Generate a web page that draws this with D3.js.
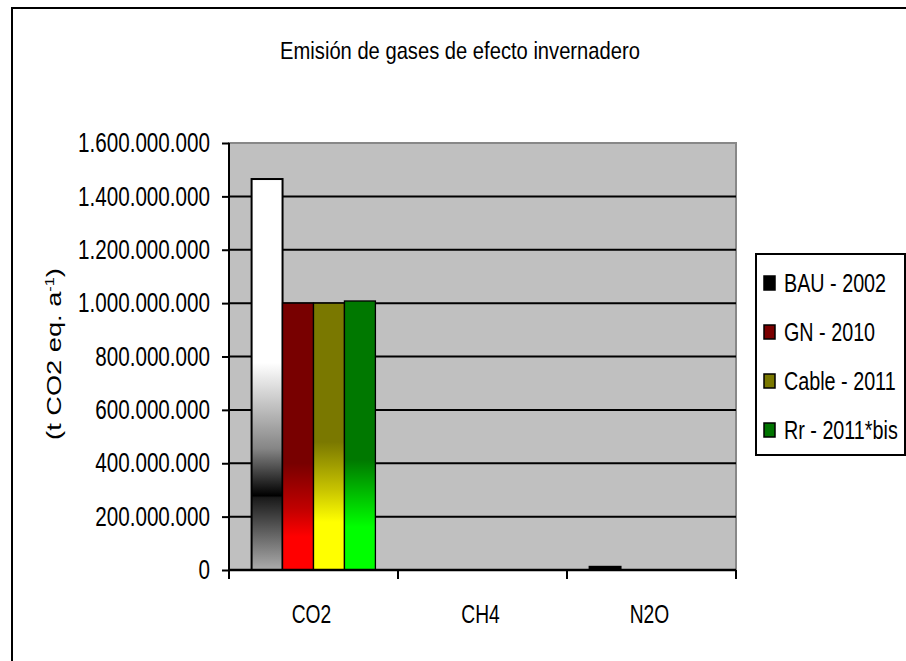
<!DOCTYPE html>
<html>
<head>
<meta charset="utf-8">
<script src="https://cdn.jsdelivr.net/npm/d3@7"></script>
<style>
  body { margin: 0; background: #fff; }
  text { font-family: "Liberation Sans", Arial, sans-serif; fill: #000; }
</style>
</head>
<body>
<div id="chart"></div>
<script>
// datos del gráfico
const gases = ["CO2", "CH4", "N2O"];
const escenarios = ["BAU - 2002", "GN - 2010", "Cable - 2011", "Rr - 2011*bis"];
const bau = [1465000000, 300000, 12000000];
const gn = [1000000000, 300000, 300000];
const cable = [1000000000, 300000, 300000];
const rr = [1008000000, 300000, 300000];
const yTicks = [0, 200000000, 400000000, 600000000, 800000000, 1000000000, 1200000000, 1400000000, 1600000000];

const series = [bau, gn, cable, rr];
const legendColors = ["#000000", "#7a0000", "#7a7800", "#007400"];
// degradados estilo Excel (offset, color)
const gradStops = [
    [[0, "#ffffff"], [0.47, "#ffffff"], [0.69, "#858585"], [0.81, "#000000"], [0.815, "#1a1a1a"], [1, "#acacac"]],
    [[0, "#780000"], [0.6, "#780000"], [0.77, "#c00000"], [0.875, "#ff0000"], [1, "#ff0000"]],
    [[0, "#7a7800"], [0.52, "#7a7800"], [0.7, "#c8c400"], [0.82, "#ffff00"], [1, "#ffff00"]],
    [[0, "#007800"], [0.59, "#007800"], [0.73, "#00c400"], [0.84, "#00ff00"], [1, "#00ff00"]]
];

const W = 906, H = 661;
const plot = { left: 229, right: 736, top: 143, bottom: 570 };

const svg = d3.select("#chart")
    .append("svg")
    .attr("width", W)
    .attr("height", H);

const defs = svg.append("defs");
gradStops.forEach((stops, i) => {
    const g = defs.append("linearGradient")
        .attr("id", "grad" + i)
        .attr("x1", 0).attr("y1", 0).attr("x2", 0).attr("y2", 1);
    stops.forEach(s => g.append("stop").attr("offset", s[0]).attr("stop-color", s[1]));
});

// marco del gráfico
svg.append("rect")
    .attr("x", 12).attr("y", 8)
    .attr("width", 1000).attr("height", 1000)
    .attr("fill", "none")
    .attr("stroke", "#000")
    .attr("stroke-width", 2);

const x0 = d3.scaleBand()
    .domain(gases)
    .range([plot.left, plot.right]);

const x1 = d3.scaleBand()
    .domain(escenarios)
    .range([0, x0.bandwidth()])
    .paddingInner(0)
    .paddingOuter(0.73);

const y = d3.scaleLinear()
    .domain([0, 1600000000])
    .range([plot.bottom, plot.top]);

// fondo del área de trazado
svg.append("rect")
    .attr("x", plot.left).attr("y", plot.top)
    .attr("width", plot.right - plot.left)
    .attr("height", plot.bottom - plot.top)
    .attr("fill", "#c0c0c0")
    .attr("stroke", "#888")
    .attr("stroke-width", 2);

// líneas de cuadrícula
svg.append("g")
    .selectAll("line")
    .data(yTicks.filter(d => d > 0 && d < 1600000000))
    .enter()
    .append("line")
    .attr("x1", plot.left)
    .attr("x2", plot.right)
    .attr("y1", d => y(d))
    .attr("y2", d => y(d))
    .attr("stroke", "#000")
    .attr("stroke-width", 2);

// barras
const groups = svg.append("g")
    .selectAll("g")
    .data(gases)
    .enter()
    .append("g")
    .attr("transform", d => `translate(${x0(d)},0)`);

const alto = v => y(0) - y(v);

groups.selectAll("rect")
    .data((g, gi) => escenarios.map((e, si) => ({ e, si, v: series[si][gi] })))
    .enter()
    .append("rect")
    .attr("x", d => x1(d.e))
    .attr("y", d => y(d.v))
    .attr("width", x1.bandwidth())
    .attr("height", d => alto(d.v))
    // barras muy bajas: el degradado no se ve, color sólido
    .attr("fill", d => alto(d.v) > 10 ? `url(#grad${d.si})` : legendColors[d.si])
    .attr("stroke", d => alto(d.v) > 2 ? "#000" : "none")
    .attr("stroke-width", d => d.si === 0 ? 2 : 1.3);

// eje Y
const yAxis = svg.append("g")
    .attr("transform", `translate(${plot.left},0)`)
    .call(d3.axisLeft(y)
        .tickValues(yTicks)
        .tickSize(7)
        .tickPadding(12)
        .tickFormat(d => d3.format(",")(d).replace(/,/g, ".")));
yAxis.select(".domain").attr("stroke-width", 2).attr("d", `M0,${plot.top}V${plot.bottom + 8}`);
yAxis.selectAll(".tick line").attr("stroke-width", 2);
yAxis.selectAll("text")
    .attr("class", "cond")
    .attr("data-w", 0.765)
    .style("font-size", "27px")
    .attr("font-family", null);

// eje X
const xAxis = svg.append("g")
    .attr("transform", `translate(0,${plot.bottom})`);
xAxis.append("line")
    .attr("x1", plot.left).attr("x2", plot.right)
    .attr("stroke", "#000").attr("stroke-width", 2.5);
xAxis.selectAll(".tk")
    .data(gases.map(g => x0(g)).concat([plot.right]))
    .enter()
    .append("line")
    .attr("x1", d => d).attr("x2", d => d)
    .attr("y1", 0).attr("y2", 9)
    .attr("stroke", "#000").attr("stroke-width", 2);
xAxis.selectAll("text")
    .data(gases)
    .enter()
    .append("text")
    .attr("class", "cond")
    .attr("data-w", 0.74)
    .attr("x", d => x0(d) + x0.bandwidth() / 2 - 2)
    .attr("y", 53)
    .attr("text-anchor", "middle")
    .style("font-size", "26px")
    .text(d => d);

// título
svg.append("text")
    .attr("class", "cond")
    .attr("data-len", 360)
    .attr("x", 460)
    .attr("y", 59)
    .attr("text-anchor", "middle")
    .style("font-size", "24px")
    .text("Emisión de gases de efecto invernadero");

// título del eje Y
const yLabel = svg.append("text")
    .attr("class", "cond")
    .attr("data-len", 172)
    .attr("transform", "translate(61,354) rotate(-90)")
    .attr("text-anchor", "middle")
    .style("font-size", "20px");
yLabel.append("tspan").text("(t CO2 eq. a");
yLabel.append("tspan").attr("baseline-shift", "super").style("font-size", "12px").text("-1");
yLabel.append("tspan").text(")");

// leyenda
const legend = svg.append("g");
legend.append("rect")
    .attr("x", 756).attr("y", 254)
    .attr("width", 149).attr("height", 201)
    .attr("fill", "#fff")
    .attr("stroke", "#000")
    .attr("stroke-width", 2);

const ly = d3.scalePoint()
    .domain(escenarios)
    .range([283, 430]);

const items = legend.selectAll(".item")
    .data(escenarios)
    .enter()
    .append("g")
    .attr("transform", d => `translate(0,${ly(d)})`);
items.append("rect")
    .attr("x", 764).attr("y", -7)
    .attr("width", 11).attr("height", 14)
    .attr("fill", (d, i) => legendColors[i])
    .attr("stroke", "#000")
    .attr("stroke-width", 1.5);
items.append("text")
    .attr("class", "cond")
    .attr("data-w", 0.76)
    .attr("x", 784)
    .attr("y", 0)
    .attr("dy", "0.35em")
    .style("font-size", "26px")
    .text(d => d);

// estrechar el texto (fuente tipo Arial Narrow) con una escala horizontal
svg.selectAll("text.cond").each(function () {
    const t = d3.select(this);
    const natural = this.getComputedTextLength();
    const k = t.attr("data-len") ? +t.attr("data-len") / natural : +t.attr("data-w");
    const x = +(t.attr("x") || 0);
    const tr = t.attr("transform") || "";
    t.attr("x", x / k).attr("transform", `${tr} scale(${k},1)`);
});
</script>
</body>
</html>
